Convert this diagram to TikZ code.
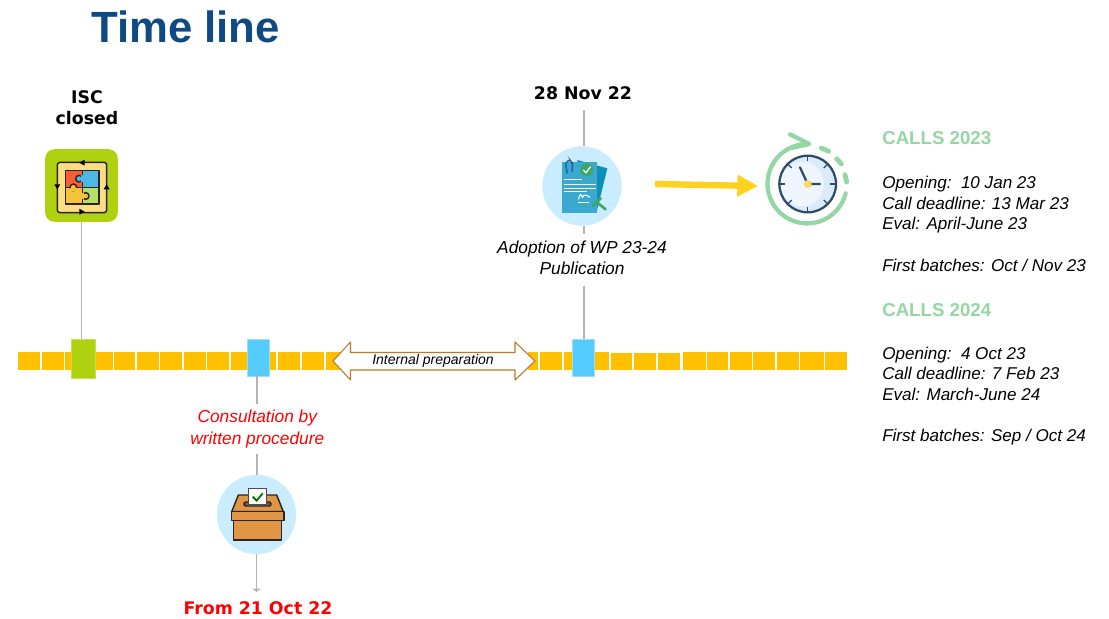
\documentclass[tikz,border=0pt]{standalone}
\usepackage{fontspec}
\setmainfont{Liberation Sans}
\newfontfamily\datefont{DejaVu Sans}
\usetikzlibrary{arrows.meta}
\definecolor{barcol}{HTML}{FFC000}
\definecolor{isccol}{HTML}{AFD10F}
\definecolor{msblue}{HTML}{55CBFF}
\definecolor{discblue}{HTML}{C9EDFF}
\definecolor{stemcol}{HTML}{B4B4B4}
\definecolor{titlecol}{HTML}{0F4A85}
\definecolor{callcol}{HTML}{94D6A4}
\definecolor{prepcol}{HTML}{B8792B}
\definecolor{inkcol}{HTML}{2F4B6B}
\definecolor{boxcol}{HTML}{E09645}
\definecolor{arrowcol}{HTML}{FFD21F}
\definecolor{sheetcol}{HTML}{3BA8D0}
\definecolor{backcol}{HTML}{0E8FB8}
\definecolor{clipcol}{HTML}{1F5F8F}
\definecolor{penscol}{HTML}{3FA66B}
\definecolor{pieceR}{HTML}{FF5A36}
\definecolor{pieceB}{HTML}{4DB8E8}
\definecolor{pieceY}{HTML}{F5C33B}
\definecolor{pieceG}{HTML}{B5DF6A}
\definecolor{framecol}{HTML}{FFDD85}
\definecolor{facecol}{HTML}{EEF5FD}
\definecolor{crescol}{HTML}{DCEBFB}
\definecolor{hubcol}{HTML}{FFD75E}
\tikzset{
  barseg/.style={fill=barcol},
  msmark/.style={draw=msblue!60!white,line width=0.5pt,fill=msblue,minimum width=16.6pt,minimum height=27.5pt,inner sep=0pt,outer sep=0pt},
  iscmark/.style={draw=isccol!70!white,line width=0.5pt,fill=isccol,minimum width=18.4pt,minimum height=29pt,inner sep=0pt,outer sep=0pt},
  stem/.style={draw=stemcol,line width=1.4pt},
  disc/.style={circle,fill=discblue,minimum size=59.5pt,inner sep=0pt,outer sep=0pt},
  datelabel/.style={font=\datefont\bfseries\fontsize{13}{15.5}\selectfont,align=center,inner sep=0pt},
  steplabel/.style={font=\itshape\fontsize{13}{16}\selectfont,align=center,inner xsep=0pt,inner ysep=5pt,outer sep=0pt},
  callhead/.style={font=\bfseries\fontsize{14}{16}\selectfont,text=callcol,anchor=base west,inner sep=0pt},
  calltext/.style={font=\itshape\fontsize{12.8}{15.5}\selectfont,align=left,anchor=north west,inner sep=0pt},
  wparrow/.style={draw=arrowcol,line width=4.8pt,-{Triangle[length=15.5pt,width=15.5pt]}},
  icnline/.style={line width=1.1pt,draw=black!85,line join=round},
}
\begin{document}
\begin{tikzpicture}[x=0.75pt,y=0.75pt,yscale=-1,xscale=1]
    \useasboundingbox (0,0) rectangle (1109,618);

    %Title
    \node (title) [anchor=base west,inner sep=0pt,text=titlecol,font=\bfseries\fontsize{32.8}{36}\selectfont] at (91,42) {Time line};

    %Time bar
    \foreach \a/\b in {17.5/40,41.5/64,65/72,95/113,114/135,137/159,160/182,184/206,207/229,231/248,270/276,278/300,302/324,326/340,528/538,540/562,564/574,595/609,683/706,707/728,730/752,753/775,777/799,800/824,825/847}
      \fill[barseg] (\a,352) rectangle (\b,370);
    \foreach \a/\b in {611/632,634/656,658/680}
      \fill[barseg] (\a,353) rectangle (\b,370);

    %Milestones
    \node (iscbar) [iscmark] at (83.2,358.5) {};
    \node (consbar) [msmark] at (258.7,357.5) {};
    \node (wpbar) [msmark] at (583.7,357.5) {};

    %Internal preparation arrow
    \draw[draw=prepcol,fill=white,line width=0.8pt,line join=round] (333,361) -- (350.5,342) -- (350.5,352.5) -- (515,352.5) -- (515,342) -- (535,361) -- (515,380) -- (515,370) -- (350.5,370) -- (350.5,380) -- cycle;
    \node (prep) [inner sep=0pt,font=\itshape\fontsize{10.5}{12}\selectfont] at (433,361) {Internal preparation};

    %ISC closed
    \node (isclabel) [datelabel] at (87,108) {ISC\\closed};
    \node (iscicon) [fill=isccol,rounded corners=7pt,minimum size=54.5pt,inner sep=0pt,outer sep=0pt] at (81.5,185.5) {};
    \coordinate (iscfoot) at (iscicon.south |- iscbar.north);
    \draw[stem] (iscicon.south) -- (iscfoot);
    \begin{scope}[shift={(20,70)},x=0.25pt,y=0.25pt]
      \draw[icnline,fill=framecol,rounded corners=2pt] (112,277) rectangle (260,428);
      \draw[icnline,fill=pieceR] (137,302) rectangle (187,352);
      \draw[icnline,fill=pieceB] (187,302) rectangle (237,352);
      \draw[icnline,fill=pieceY] (137,352) rectangle (187,402);
      \draw[icnline,fill=pieceG] (187,352) rectangle (237,402);
      \draw[icnline,fill=pieceB] (177,326) circle (10);
      \fill[pieceB] (183,316) rectangle (192,336);
      \draw[icnline,fill=pieceY] (197,378) circle (10);
      \fill[pieceY] (182,368) rectangle (191,388);
      \draw[icnline,fill=pieceY] (160,352) circle (10);
      \fill[pieceY] (150,353) rectangle (170,362);
      \fill[black] (177,278) -- (194,269) -- (194,287) -- cycle;
      \fill[black] (112,358) -- (103,343) -- (121,343) -- cycle;
      \fill[black] (194,425) -- (178,416) -- (178,434) -- cycle;
      \fill[black] (260,343) -- (251,358) -- (269,358) -- cycle;
    \end{scope}

    %Consultation
    \node (conslabel) [steplabel,text=red] at (257.3,429) {Consultation by\\written procedure};
    \node (ballot) [disc] at (256.5,514.5) {};
    \node (fromlabel) [datelabel,text=red] at (258,608) {From 21 Oct 22};
    \coordinate (consfoot) at (ballot.south |- 0,592);
    \draw[stem] (conslabel.north |- consbar.south) -- (conslabel.north);
    \draw[stem] (conslabel.south) -- (conslabel.south |- ballot.north);
    \draw[stem,-{Triangle[length=2.5pt,width=6pt]}] (ballot.south) -- (consfoot);
    \begin{scope}[shift={(170,460)},x=0.25pt,y=0.25pt]
      \draw[icnline,fill=boxcol] (205,105) -- (320,105) -- (340,155) -- (185,155) -- cycle;
      \draw[icnline,fill=boxcol!60!black,rounded corners=1pt] (222,126) rectangle (303,138);
      \draw[line width=0.8pt,draw=black!70,fill=white] (236,85) rectangle (290,135);
      \draw[line width=1.4pt,draw=green!45!black] (248,110) -- (260,122) -- (278,100);
      \draw[icnline,fill=boxcol] (185,155) rectangle (342,182);
      \draw[icnline,fill=boxcol] (190,182) rectangle (335,240);
    \end{scope}

    %Adoption of the work programme
    \node (wplabel) [datelabel] at (583,93) {28 Nov 22};
    \node (wpicon) [disc] at (582,186) {};
    \node (wpstep) [steplabel] at (582,258) {Adoption of WP 23-24\\Publication};
    \coordinate (wptop) at (wpbar.north |- 0,110);
    \draw[stem] (wptop) -- (wptop |- wpicon.north);
    \draw[stem] (wptop |- wpicon.south) -- (wptop |- wpstep.north);
    \draw[stem,shorten <=3pt] (wptop |- wpstep.south) -- (wpbar.north);
    \begin{scope}[shift={(490,80)},x=0.25pt,y=0.25pt]
      \fill[backcol] (262,240) -- (352,265) -- (320,395) -- (262,395) -- cycle;
      \fill[sheetcol] (215,245) rectangle (320,398);
      \draw[line width=1pt,draw=clipcol,rounded corners=2pt] (232,280) -- (226,250) -- (238,238) -- (248,250) -- (246,275);
      \fill[penscol] (290,270) circle (20);
      \draw[line width=0.9pt,white] (280,270) -- (288,278) -- (302,260);
      \draw[line width=0.7pt,white] (222,297) -- (275,297) (222,312) -- (318,312) (222,325) -- (318,325) (222,335) -- (290,335) (265,368) -- (298,368);
      \draw[line width=0.8pt,white] (265,358) .. controls (270,340) and (274,340) .. (277,352) .. controls (282,342) and (290,345) .. (300,352);
      \draw[line width=2pt,draw=penscol,line cap=round] (308,378) -- (332,355) (322,368) -- (347,388);
    \end{scope}

    %Clock
    \coordinate (wpstart) at (655,184);
    \coordinate (clockedge) at (758,186);
    \draw[wparrow] (wpstart) -- (clockedge);
    \begin{scope}[shift={(490,80)},x=0.25pt,y=0.25pt]
      \draw[callcol,line width=3.2pt,line cap=round] (1067,340) arc[start angle=14,end angle=272,radius=119];
      \draw[callcol,line width=3.2pt,line cap=round,line join=round] (900,163) -- (958,192) -- (905,204);
      \draw[callcol,line width=3.6pt,line cap=round] (994,204) -- (1016,214) (1040,236) -- (1054,252) (1065,284) -- (1070,306);
      \fill[crescol] (953,312) circle (85);
      \fill[facecol] (935,312) circle (67);
      \draw[inkcol,line width=1.7pt] (953,312) circle (85);
      \foreach \ang in {0,45,...,315}
        \draw[inkcol,line width=0.9pt] (953,312) ++(\ang:68) -- ++(\ang:16);
      \draw[inkcol,line width=1.7pt,line cap=round] (953,312) -- (930,262) (953,312) -- (990,312);
      \fill[hubcol] (953,312) circle (12);
    \end{scope}

    %Calls
    \node (head23) [callhead] at (882,144) {CALLS 2023};
    \node (dates23) [calltext] at (882,176) {Opening:\ \ 10 Jan 23\\Call deadline: 13 Mar 23\\Eval: April-June 23\\[15.5pt]First batches: Oct / Nov 23};
    \node (head24) [callhead] at (882,316) {CALLS 2024};
    \node (dates24) [calltext] at (882,346.5) {Opening:\ \ 4 Oct 23\\Call deadline: 7 Feb 23\\Eval: March-June 24\\[15.5pt]First batches: Sep / Oct 24};
\end{tikzpicture}
\end{document}
